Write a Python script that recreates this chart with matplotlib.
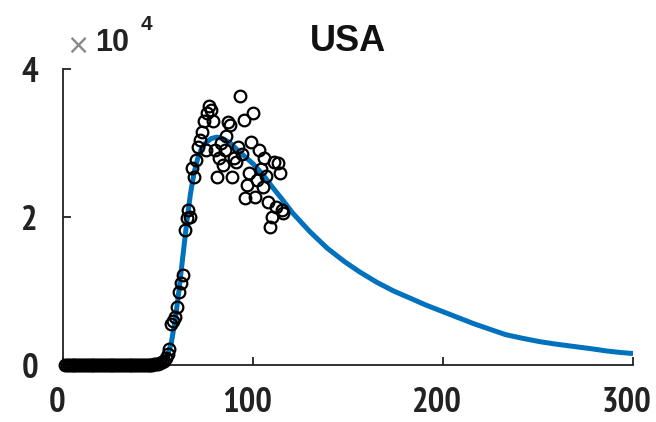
import matplotlib
matplotlib.use("Agg")
import matplotlib.pyplot as plt
from matplotlib import font_manager
from matplotlib.transforms import ScaledTranslation

# Daily new cases (units of 1e4), day index from 1
obs_days = list(range(1, 117))
obs_vals = (
    [0.0] * 44
    + [0.002, 0.003, 0.005, 0.008, 0.01, 0.02, 0.03, 0.04, 0.06, 0.10, 0.15, 0.22,  # 45-56
       0.55, 0.60, 0.65, 0.78, 0.99, 1.11, 1.22, 1.82, 1.99, 2.09,                   # 57-66
       2.00, 2.66, 2.54, 2.77, 2.95, 3.04, 3.15, 3.30, 2.90, 3.40,                   # 67-76
       3.50, 3.45, 3.30, 2.90, 2.54, 2.80, 3.00, 2.70, 2.90, 3.10,                   # 77-86
       3.28, 3.24, 2.54, 2.80, 2.75, 2.95, 3.63, 2.85, 3.31, 2.26,                   # 87-96
       2.43, 2.60, 3.02, 3.40, 2.27, 2.50, 2.90, 2.65, 2.40, 2.80,                   # 97-106
       2.55, 2.20, 1.87, 2.00, 2.75, 2.14, 2.73, 2.60, 2.10, 2.05]                   # 107-116
)

# Fitted model curve (units of 1e4)
fit_days = [0, 40, 50, 53, 55, 57, 59, 61, 63, 65, 67, 69, 71, 73, 75, 78, 81, 84,
            88, 92, 96, 100, 105, 110, 115, 121, 130, 139, 148, 156, 165, 174, 183,
            191, 200, 208, 216, 225, 233, 242, 251, 260, 269, 278, 286, 293, 300]
fit_vals = [0.0, 0.0, 0.02, 0.06, 0.12, 0.30, 0.60, 1.00, 1.45, 1.90, 2.30, 2.60,
            2.80, 2.93, 3.00, 3.06, 3.08, 3.06, 3.00, 2.90, 2.81, 2.72, 2.58, 2.41,
            2.25, 2.05, 1.80, 1.58, 1.40, 1.26, 1.12, 1.00, 0.90, 0.81, 0.72, 0.64,
            0.56, 0.48, 0.41, 0.36, 0.315, 0.28, 0.25, 0.22, 0.19, 0.17, 0.155]

x_ticks = [0, 100, 200, 300]
y_ticks = [0, 2, 4]
title_text = "USA"


def narrow_bold_sans():
    """Pick an upright Helvetica-Narrow-like bold face if one is installed."""
    for f in font_manager.fontManager.ttflist:
        name = f.name.lower()
        fname = f.fname.lower()
        if f.style != "normal" or "italic" in fname or "oblique" in fname:
            continue
        if ("narrow" in name or "roboto condensed" in name) and \
                (str(f.weight).lower() in ("bold", "700") or "bold" in fname):
            return f.fname
    return None


narrow_path = narrow_bold_sans()
plt.rcParams["font.family"] = ["Liberation Sans", "DejaVu Sans"]

fig = plt.figure(figsize=(6.56, 4.22), dpi=100)
ax = fig.add_axes([63 / 656, 1 - 365 / 422, 570 / 656, 296 / 422])

ax.plot(fit_days, fit_vals, color="#0072BD", lw=3.6, solid_capstyle="butt", zorder=2)
ax.plot(obs_days, obs_vals, linestyle="none", marker="o", ms=8.4, mfc="none",
        mec="black", mew=1.6, zorder=3, clip_on=False)

ax.set_xlim(0, 300)
ax.set_ylim(0, 4)
ax.set_xticks(x_ticks)
ax.set_yticks(y_ticks)
ax.set_xticklabels([str(t) for t in x_ticks])
ax.set_yticklabels([str(t) for t in y_ticks])
for side in ("top", "right"):
    ax.spines[side].set_visible(False)
for side in ("left", "bottom"):
    ax.spines[side].set_linewidth(1.3)
    ax.spines[side].set_color("#222222")
ax.tick_params(direction="in", length=6, width=1.3, colors="#222222",
               labelcolor="#222222")
ax.tick_params(axis="x", pad=16)
ax.tick_params(axis="y", pad=18)

if narrow_path is not None:
    tick_font = font_manager.FontProperties(fname=narrow_path, size=25)
else:
    tick_font = font_manager.FontProperties(family=["Liberation Sans"], weight="bold", size=22)
shift = ScaledTranslation(-6 / 100, 0, fig.dpi_scale_trans)
for lab in ax.get_xticklabels():
    lab.set_fontproperties(tick_font)
    lab.set_transform(lab.get_transform() + shift)
for lab in ax.get_yticklabels():
    lab.set_fontproperties(tick_font)

ax.set_title(title_text, fontsize=26, fontweight="bold", pad=13, color="#111111")

# exponent marker above the y axis
fig.text(78 / 656, 1 - 46 / 422, "\u00d7", fontsize=20, color="#888888",
         ha="center", va="center", family=["DejaVu Sans"])
fig.text(95 / 656, 1 - 43 / 422, "10", fontsize=22, fontweight="bold",
         color="#222222", ha="left", va="center")
fig.text(141 / 656, 1 - 25 / 422, "4", fontsize=15, fontweight="bold",
         color="#222222", ha="left", va="center")

fig.savefig("out.png", dpi=100)
